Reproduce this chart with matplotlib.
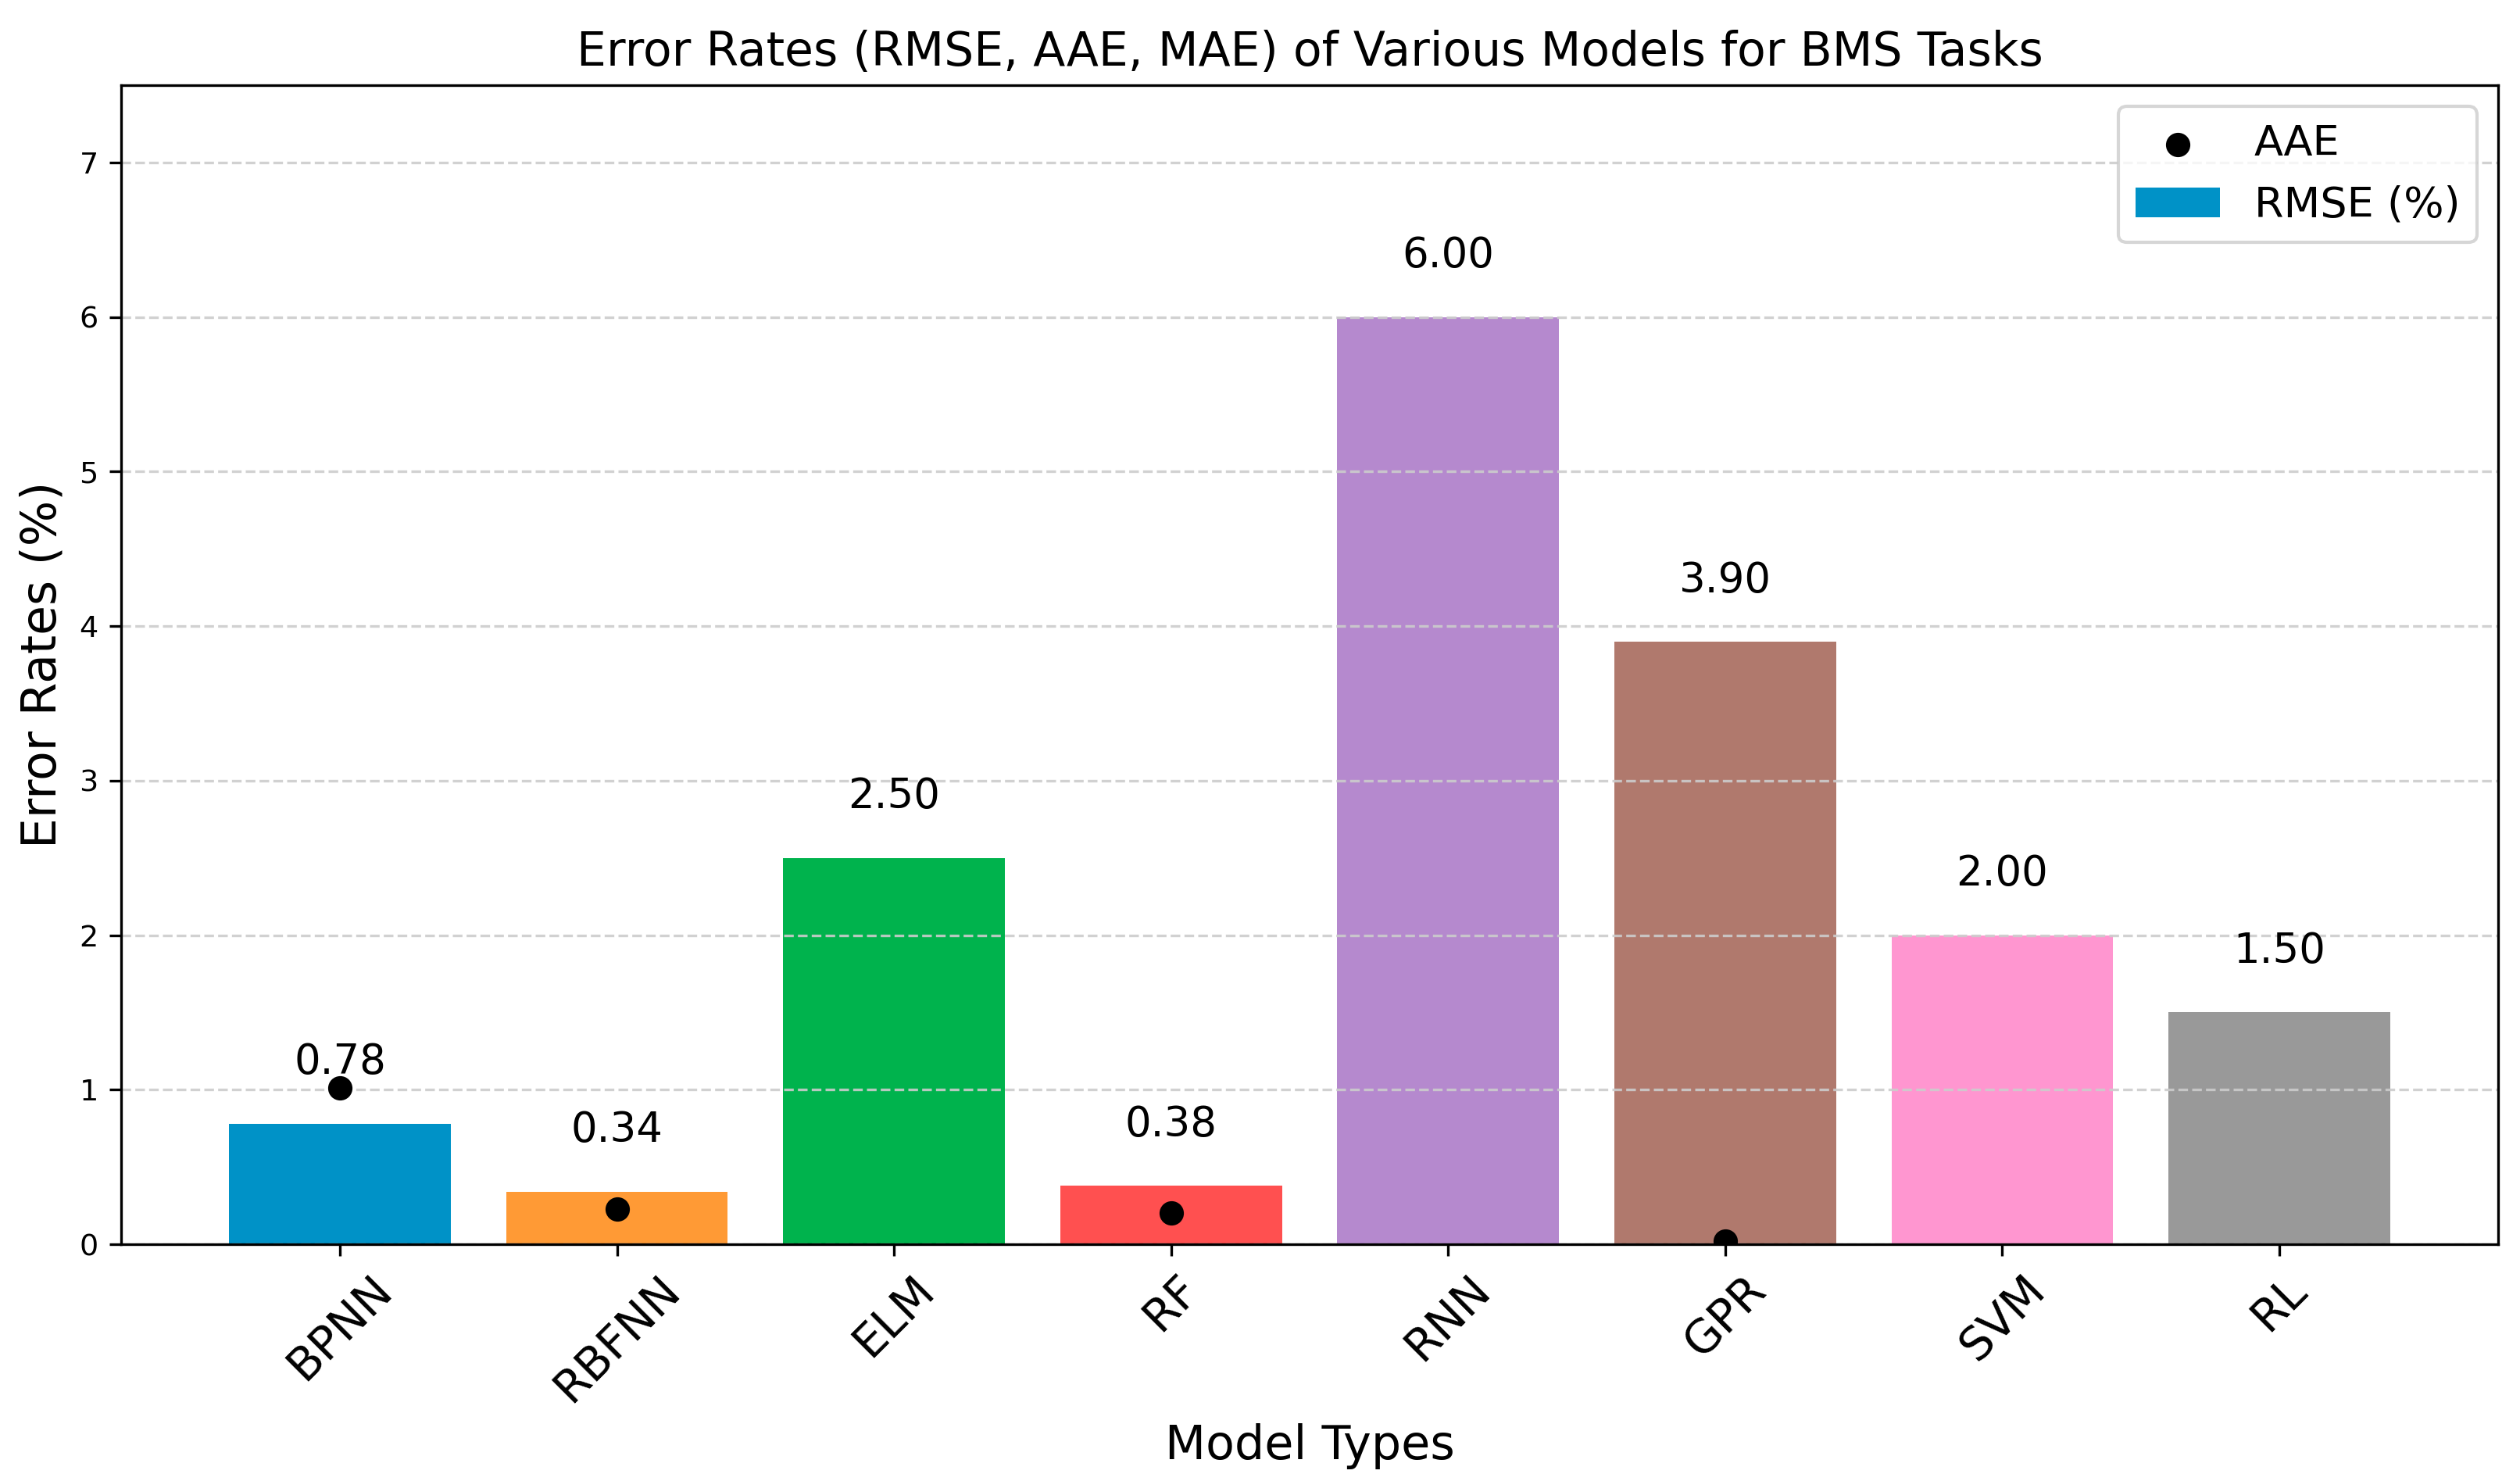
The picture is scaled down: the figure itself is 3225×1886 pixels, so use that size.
import numpy as np
import matplotlib
matplotlib.use("Agg")
import matplotlib.pyplot as plt

models = ["BPNN", "RBFNN", "ELM", "RF", "RNN", "GPR", "SVM", "RL"]
rmse = [0.78, 0.34, 2.50, 0.38, 6.00, 3.90, 2.00, 1.50]
aae = [1.01, 0.23, np.nan, 0.20, np.nan, 0.02, np.nan, np.nan]
colors = ["#0092c7", "#ff9a35", "#00b34d", "#ff5050",
          "#b589ce", "#b0796d", "#ff96d0", "#999999"]

fig = plt.figure(figsize=(3225 / 300, 1886 / 300), dpi=300)
ax = fig.add_axes([155 / 3225, 1 - 1592 / 1886, (3197 - 155) / 3225, (1592 - 109) / 1886])

x = np.arange(len(models))
bars = ax.bar(x, rmse, color=colors, width=0.8, label="RMSE (%)")
ax.scatter(x, aae, color="black", s=42, zorder=3, label="AAE")

for xi, h in zip(x, rmse):
    ax.text(xi, h + 0.32, f"{h:.2f}", ha="center", va="baseline", fontsize=12.7)

ax.set_ylim(0, 7.5)
ax.set_xticks(x)
ax.set_xticklabels(models, rotation=45, fontsize=14)
ax.tick_params(axis="y", labelsize=9.2)
ax.yaxis.grid(True, linestyle="--", color="#cccccc", alpha=0.9, linewidth=0.8)

ax.set_title("Error Rates (RMSE, AAE, MAE) of Various Models for BMS Tasks", fontsize=14.4)
ax.set_xlabel("Model Types", fontsize=14.5)
ax.set_ylabel("Error Rates (%)", fontsize=14.8)

ax.legend(loc="upper right", fontsize=13)

fig.savefig("out.png", dpi=300)
